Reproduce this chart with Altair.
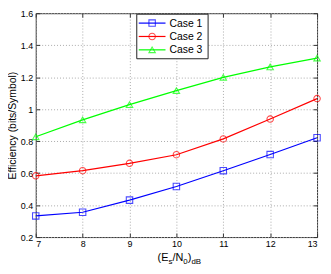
import altair as alt
import pandas as pd

snr = [7, 8, 9, 10, 11, 12, 13]
case1 = [0.332, 0.355, 0.431, 0.516, 0.615, 0.716, 0.821]
case2 = [0.583, 0.615, 0.661, 0.715, 0.814, 0.938, 1.066]
case3 = [0.827, 0.933, 1.028, 1.116, 1.199, 1.264, 1.319]
cases = ["Case 1", "Case 2", "Case 3"]
colors = ["#0000ff", "#ff0000", "#00ff00"]
shapes = ["square", "circle", "triangle-up"]
x_ticks = [7, 8, 9, 10, 11, 12, 13]
y_ticks = [0.2, 0.4, 0.6, 0.8, 1.0, 1.2, 1.4, 1.6]
y_title = "Efficiency (bits/Symbol)"

FONT = "Liberation Sans"
W, H = 284, 226

rows = []
for name, vals in zip(cases, [case1, case2, case3]):
    for s, v in zip(snr, vals):
        rows.append({"snr": s, "eff": v, "case": name})
df = pd.DataFrame(rows)

xs = alt.Scale(domain=[7, 13], nice=False)
ys = alt.Scale(domain=[0.2, 1.6], nice=False)
color = alt.Color("case:N", scale=alt.Scale(domain=cases, range=colors), legend=None)
shape = alt.Shape("case:N", scale=alt.Scale(domain=cases, range=shapes), legend=None)

x_main = alt.Axis(orient="bottom", values=x_ticks, offset=-4, tickSize=4, tickColor="#333",
                  domain=False, grid=True, gridDash=[1, 2], gridColor="#aaa",
                  labelFont=FONT, labelFontSize=9, labelColor="black", labelPadding=3,
                  title=None)
y_main = alt.Axis(orient="left", values=y_ticks, offset=-4, tickSize=4, tickColor="#333",
                  domain=False, grid=True, gridDash=[1, 2], gridColor="#aaa",
                  labelFont=FONT, labelFontSize=9, labelColor="black", labelPadding=3,
                  format="~g", title=y_title, titleFont=FONT, titleFontSize=10.5,
                  titleFontWeight="normal", titleColor="black", titlePadding=3)
x_top = alt.Axis(orient="top", values=x_ticks, offset=-4, tickSize=4, tickColor="#333",
                 domain=False, grid=False, labels=False, title=None)
y_right = alt.Axis(orient="right", values=y_ticks, offset=-4, tickSize=4, tickColor="#333",
                   domain=False, grid=False, labels=False, title=None)

lines = alt.Chart(df).mark_line(strokeWidth=1.2).encode(
    x=alt.X("snr:Q", scale=xs, axis=x_main),
    y=alt.Y("eff:Q", scale=ys, axis=y_main),
    color=color,
    detail="case:N",
)
points = alt.Chart(df).mark_point(filled=False, size=42, strokeWidth=1.1).encode(
    x=alt.X("snr:Q", scale=xs, axis=x_top),
    y=alt.Y("eff:Q", scale=ys, axis=y_right),
    color=color,
    shape=shape,
)

layers = [lines, points]


def one(name):
    return pd.DataFrame({"t": [name]})


# legend box
layers.append(
    alt.Chart(one("box")).mark_rect(fill="white", stroke="#222", strokeWidth=1).encode(
        x=alt.value(102), x2=alt.value(174), y=alt.value(1), y2=alt.value(46)
    )
)
leg_y = [10, 23.5, 37]
for name, c, s, yy in zip(cases, colors, shapes, leg_y):
    d = one(name)
    layers.append(alt.Chart(d).mark_rule(color=c, strokeWidth=1.2).encode(
        x=alt.value(104), x2=alt.value(131), y=alt.value(yy)))
    layers.append(alt.Chart(d).mark_point(filled=False, color=c, size=42, strokeWidth=1.1).encode(
        x=alt.value(117.5), y=alt.value(yy), shape=alt.value(s)))
    layers.append(alt.Chart(d).mark_text(align="left", baseline="middle", font=FONT,
                                         fontSize=10.5, color="black").encode(
        x=alt.value(135), y=alt.value(yy + 0.5), text="t:N"))

# x-axis title (E_s/N_0)_dB built from pieces
title_parts = [
    ("(E", 123, 0, 11),
    ("s", 134, 3, 8),
    ("/N", 138, 0, 11),
    ("0", 149, 3, 8),
    (")", 153.5, 0, 11),
    ("dB", 157.2, 3, 8),
]
for txt, xx, dy, fs in title_parts:
    layers.append(alt.Chart(one(txt)).mark_text(align="left", baseline="alphabetic", font=FONT,
                                                fontSize=fs, color="black").encode(
        x=alt.value(xx), y=alt.value(H + 24 + dy), text="t:N"))

chart = alt.layer(*layers).resolve_axis(x="independent", y="independent").properties(
    width=W, height=H,
    autosize=alt.AutoSizeParams(type="none"),
    padding={"left": 28, "top": 4, "right": 6, "bottom": 32},
).configure_view(stroke="#333", strokeWidth=1)

chart.save("out.html", embed_options={"renderer": "svg", "actions": False})
